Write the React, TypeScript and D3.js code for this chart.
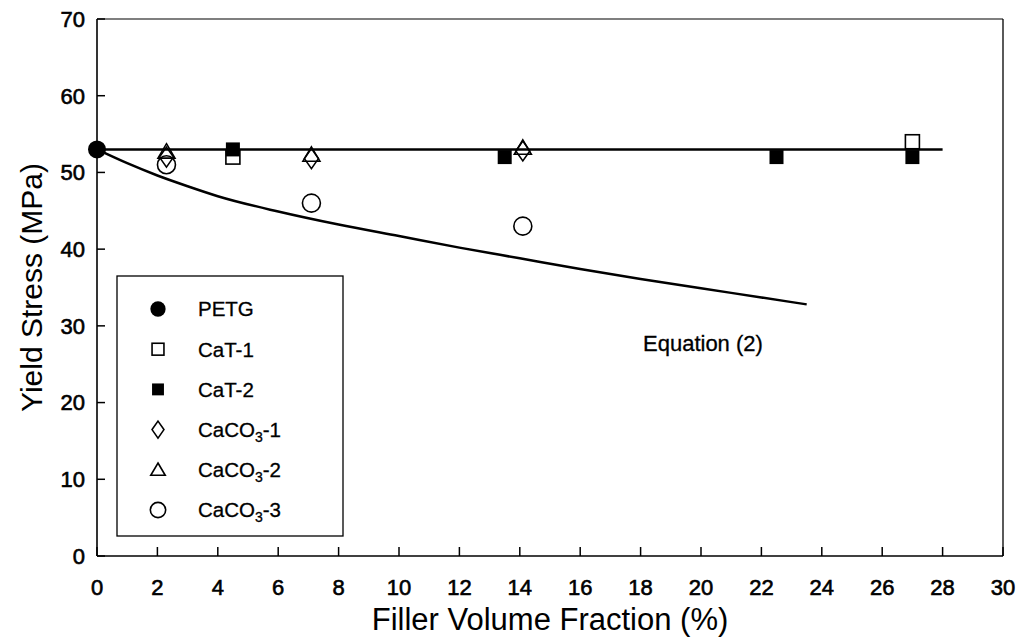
import React from "react";
import * as d3 from "d3";

// Filler content (vol %) and measured yield stress (MPa) per material
const petgX = [0];
const petgY = [53];
const cat1X = [4.5, 27];
const cat1Y = [52, 54];
const cat2X = [4.5, 13.5, 22.5, 27];
const cat2Y = [53, 52, 52, 52];
const caco1X = [2.3, 7.1, 14.1];
const caco1Y = [52, 51.8, 52.8];
const caco2X = [2.3, 7.1, 14.1];
const caco2Y = [52.7, 52.3, 53.2];
const caco3X = [2.3, 7.1, 14.1];
const caco3Y = [51, 46, 43];

// Flat reference level (matrix yield stress) and its extent
const levelX = [0, 28];
const levelY = [53, 53];

// Equation (2) prediction curve
const eqX = [0, 1, 2, 3, 4, 6, 8, 10, 12, 14, 16, 18, 20, 22, 23.5];
const eqY = [53, 51.2, 49.6, 48.2, 46.9, 44.9, 43.2, 41.7, 40.2, 38.8, 37.4, 36.1, 34.9, 33.7, 32.8];

const xTicks = d3.range(0, 31, 2);
const yTicks = d3.range(0, 71, 10);

const legendItems = [
  { key: "petg", label: "PETG" },
  { key: "cat1", label: "CaT-1" },
  { key: "cat2", label: "CaT-2" },
  { key: "caco1", label: "CaCO", sub: "3", suffix: "-1" },
  { key: "caco2", label: "CaCO", sub: "3", suffix: "-2" },
  { key: "caco3", label: "CaCO", sub: "3", suffix: "-3" },
];

const FONT = "'Liberation Sans', Arial, Helvetica, sans-serif";

function Marker({ kind, cx, cy, s = 1 }: { kind: string; cx: number; cy: number; s?: number }) {
  const sw = 1.6;
  switch (kind) {
    case "petg":
      return <circle cx={cx} cy={cy} r={9 * s} fill="#000" />;
    case "cat1":
      return <rect x={cx - 7 * s} y={cy - 7 * s} width={14 * s} height={14 * s} fill="none" stroke="#000" strokeWidth={sw} />;
    case "cat2":
      return <rect x={cx - 7 * s} y={cy - 7 * s} width={14 * s} height={14 * s} fill="#000" />;
    case "caco1": {
      const w = 7 * s, h = 10 * s;
      return (
        <path
          d={`M${cx},${cy - h}L${cx + w},${cy}L${cx},${cy + h}L${cx - w},${cy}Z`}
          fill="none"
          stroke="#000"
          strokeWidth={sw}
        />
      );
    }
    case "caco2": {
      const w = 8.5 * s, h = 8 * s;
      return (
        <path
          d={`M${cx},${cy - h}L${cx + w},${cy + h * 0.8}L${cx - w},${cy + h * 0.8}Z`}
          fill="none"
          stroke="#000"
          strokeWidth={sw}
        />
      );
    }
    case "caco3":
      return <circle cx={cx} cy={cy} r={9 * s} fill="none" stroke="#000" strokeWidth={sw} />;
    default:
      return null;
  }
}

export default function App() {
  const x = d3.scaleLinear().domain([0, 30]).range([97, 1003]);
  const y = d3.scaleLinear().domain([0, 70]).range([556, 19]);

  const line = d3
    .line<number>()
    .x((_, i) => x(eqX[i]))
    .y((d) => y(d))
    .curve(d3.curveMonotoneX);

  const levelLine = d3
    .line<number>()
    .x((_, i) => x(levelX[i]))
    .y((d) => y(d));

  const series = [
    { kind: "cat1", xs: cat1X, ys: cat1Y },
    { kind: "caco1", xs: caco1X, ys: caco1Y },
    { kind: "caco2", xs: caco2X, ys: caco2Y },
    { kind: "caco3", xs: caco3X, ys: caco3Y },
    { kind: "cat2", xs: cat2X, ys: cat2Y },
    { kind: "petg", xs: petgX, ys: petgY },
  ];

  const [x0, x1] = x.range();
  const [y0, y1] = y.range();

  const legend = { left: 117, top: 276, right: 343, bottom: 536, symX: 158, textX: 198, firstY: 309, step: 40.2 };

  return (
    <svg
      width={1021}
      height={641}
      style={{ position: "absolute", left: 0, top: 0, background: "#fff" }}
      fontFamily={FONT}
    >
      <rect width={1021} height={641} fill="#fff" />

      {/* plot frame */}
      <line x1={x0} x2={x1} y1={y1} y2={y1} stroke="#000" strokeWidth={1.1} />
      <line x1={x1} x2={x1} y1={y1} y2={y0} stroke="#000" strokeWidth={1.3} />
      <line x1={x0} x2={x0} y1={y1} y2={y0} stroke="#000" strokeWidth={1.6} />
      <line x1={x0} x2={x1} y1={y0} y2={y0} stroke="#000" strokeWidth={1.6} />

      {/* x ticks and labels */}
      {xTicks.map((t) => (
        <g key={`xt${t}`}>
          <line x1={x(t)} x2={x(t)} y1={y0} y2={y0 - 9} stroke="#000" strokeWidth={1.5} />
          <text x={x(t)} y={595} textAnchor="middle" fontSize={22} fill="#000" stroke="#000" strokeWidth={0.6}>
            {t}
          </text>
        </g>
      ))}

      {/* y ticks and labels */}
      {yTicks.map((t) => (
        <g key={`yt${t}`}>
          <line x1={x0} x2={x0 + 8} y1={y(t)} y2={y(t)} stroke="#000" strokeWidth={1.5} />
          <text x={85} y={y(t)} dy="0.36em" textAnchor="end" fontSize={22} fill="#000" stroke="#000" strokeWidth={0.6}>
            {t}
          </text>
        </g>
      ))}

      {/* axis titles */}
      <text x={(x0 + x1) / 2} y={630} textAnchor="middle" fontSize={31} fill="#000">
        Filler Volume Fraction (%)
      </text>
      <text
        transform={`translate(42,${(y0 + y1) / 2}) rotate(-90)`}
        textAnchor="middle"
        fontSize={30}
        fill="#000"
      >
        Yield Stress (MPa)
      </text>

      {/* reference level and Equation (2) */}
      <path d={levelLine(levelY) ?? ""} fill="none" stroke="#000" strokeWidth={2.5} />
      <path d={line(eqY) ?? ""} fill="none" stroke="#000" strokeWidth={2.5} />
      <text x={643} y={351} fontSize={22} fill="#000" stroke="#000" strokeWidth={0.3}>
        Equation (2)
      </text>

      {/* data markers */}
      {series.map((s) =>
        s.xs.map((xv, i) => <Marker key={`${s.kind}${i}`} kind={s.kind} cx={x(xv)} cy={y(s.ys[i])} />)
      )}

      {/* legend */}
      <rect
        x={legend.left}
        y={legend.top}
        width={legend.right - legend.left}
        height={legend.bottom - legend.top}
        fill="#fff"
        stroke="#000"
        strokeWidth={1.3}
      />
      {legendItems.map((it, i) => {
        const cy = legend.firstY + i * legend.step;
        return (
          <g key={it.key}>
            <Marker kind={it.key} cx={legend.symX} cy={cy} s={0.85} />
            <text x={legend.textX} y={cy} dy="0.36em" fontSize={20.5} fill="#000" stroke="#000" strokeWidth={0.3}>
              {it.label}
              {it.sub ? (
                <tspan fontSize={14} dy={5}>
                  {it.sub}
                </tspan>
              ) : null}
              {it.suffix ? <tspan dy={-5}>{it.suffix}</tspan> : null}
            </text>
          </g>
        );
      })}
    </svg>
  );
}
